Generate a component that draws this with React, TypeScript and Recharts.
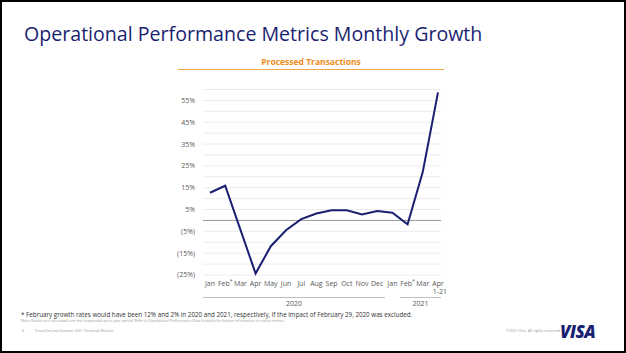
import { LineChart, Line, XAxis, YAxis, CartesianGrid, ReferenceLine } from "recharts";

const periods = ["2020-01", "2020-02", "2020-03", "2020-04", "2020-05", "2020-06", "2020-07", "2020-08", "2020-09", "2020-10", "2020-11", "2020-12", "2021-01", "2021-02", "2021-03", "2021-04"];
const monthLabels = ["Jan", "Feb*", "Mar", "Apr", "May", "Jun", "Jul", "Aug", "Sep", "Oct", "Nov", "Dec", "Jan", "Feb*", "Mar", "Apr|1-21"];
const growth = [12.7, 15.9, -4.2, -24.3, -11.8, -4.5, 0.6, 3.2, 4.7, 4.7, 2.7, 4.3, 3.5, -1.8, 22.3, 58.7];
const yTicks = [-25, -20, -15, -10, -5, 0, 5, 10, 15, 20, 25, 30, 35, 40, 45, 50, 55, 60];

const data = periods.map((p, i) => ({ period: p, label: monthLabels[i], value: growth[i] }));

const NAVY = "#1a1f71";
const ORANGE = "#ef8b1a";
const FONT = "'Open Sans', 'Noto Sans', sans-serif";

const fmtPct = (v: number) => (v < 0 ? `(${-v}%)` : `${v}%`);

const MonthTick = ({ x, y, index }: any) => {
  const label = monthLabels[index] || "";
  const [main, sub] = label.split("|");
  const star = main.endsWith("*");
  const text = star ? main.slice(0, -1) : main;
  return (
    <text x={x} y={y} textAnchor="middle" fontSize={7} fill="#595959" fontFamily={FONT}>
      <tspan x={x} dy="0.71em">
        {text}
        {star && <tspan fontSize={5} dy={-3}>*</tspan>}
      </tspan>
      {sub && (
        <tspan x={x + 2} dy={star ? 11 : 8}>
          {sub}
        </tspan>
      )}
    </text>
  );
};

const PctTick = ({ x, y, payload }: any) => {
  const v = payload.value as number;
  if (v % 10 === 0) return null;
  return (
    <text x={x} y={y} dy="0.35em" textAnchor="end" fontSize={7} fill="#595959" fontFamily={FONT}>
      {fmtPct(v)}
    </text>
  );
};

export default function App() {
  return (
    <div style={{ position: "absolute", left: 0, top: 0, width: 626, height: 353, background: "#fff", fontFamily: FONT, overflow: "hidden" }}>
      <div style={{ position: "absolute", left: 24, top: 20, fontSize: 19.6, color: NAVY, whiteSpace: "nowrap" }}>
        Operational Performance Metrics Monthly Growth
      </div>
      <div style={{ position: "absolute", left: 178, width: 266, top: 56, textAlign: "center", fontSize: 8.5, fontWeight: 700, color: ORANGE }}>
        Processed Transactions
      </div>
      <div style={{ position: "absolute", left: 178, width: 266, top: 69, height: 1, background: "#f2a54a" }} />

      <div style={{ position: "absolute", left: 0, top: 0 }}>
        <LineChart width={626} height={353} data={data} margin={{ top: 89.5, left: 143, right: 185, bottom: 48 }}>
          <CartesianGrid vertical={false} stroke="#ececec" />
          <XAxis
            dataKey="period"
            interval={0}
            axisLine={false}
            tickLine={false}
            tickSize={0}
            tickMargin={6}
            height={30}
            padding={{ left: 7, right: 3 }}
            tick={<MonthTick />}
          />
          <YAxis
            domain={[-25, 60]}
            ticks={yTicks}
            interval={0}
            axisLine={false}
            tickLine={false}
            width={60}
            tick={<PctTick />}
          />
          <ReferenceLine y={0} stroke="#9a9a9a" strokeWidth={1} />
          <Line
            type="linear"
            dataKey="value"
            stroke={NAVY}
            strokeWidth={2}
            dot={false}
            isAnimationActive={false}
          />
        </LineChart>
      </div>

      <div style={{ position: "absolute", left: 203, width: 182, top: 297, height: 1, background: "#bfbfbf" }} />
      <div style={{ position: "absolute", left: 203, width: 182, top: 299, textAlign: "center", fontSize: 7, color: "#595959" }}>2020</div>
      <div style={{ position: "absolute", left: 400, width: 41, top: 297, height: 1, background: "#bfbfbf" }} />
      <div style={{ position: "absolute", left: 400, width: 41, top: 299, textAlign: "center", fontSize: 7, color: "#595959" }}>2021</div>

      <div style={{ position: "absolute", left: 21, top: 310, fontSize: 6.25, color: "#333", whiteSpace: "nowrap" }}>
        * February growth rates would have been 12% and 2% in 2020 and 2021, respectively, if the impact of February 29, 2020 was excluded.
      </div>
      <div style={{ position: "absolute", left: 21, top: 318, fontSize: 3.6, color: "#999", whiteSpace: "nowrap" }}>
        Note: Results are calculated over the comparable prior-year period. Refer to Operational Performance Data footnote for further information on these metrics.
      </div>
      <div style={{ position: "absolute", left: 22, top: 328, fontSize: 3.8, color: "#999" }}>6</div>
      <div style={{ position: "absolute", left: 35, top: 328, fontSize: 3.8, color: "#999", whiteSpace: "nowrap" }}>
        Fiscal Second Quarter 2021 Financial Results
      </div>
      <div style={{ position: "absolute", left: 506, top: 328, fontSize: 3.8, color: "#999", whiteSpace: "nowrap" }}>
        ©2021 Visa. All rights reserved.
      </div>
      <div style={{ position: "absolute", left: 560, top: 320, fontSize: 17, fontWeight: 800, fontStyle: "italic", color: NAVY, letterSpacing: -0.5 }}>
        VISA
      </div>

      <div style={{ position: "absolute", left: 0, top: 0, width: 626, height: 353, boxSizing: "border-box", border: "2px solid #000", pointerEvents: "none" }} />
    </div>
  );
}
